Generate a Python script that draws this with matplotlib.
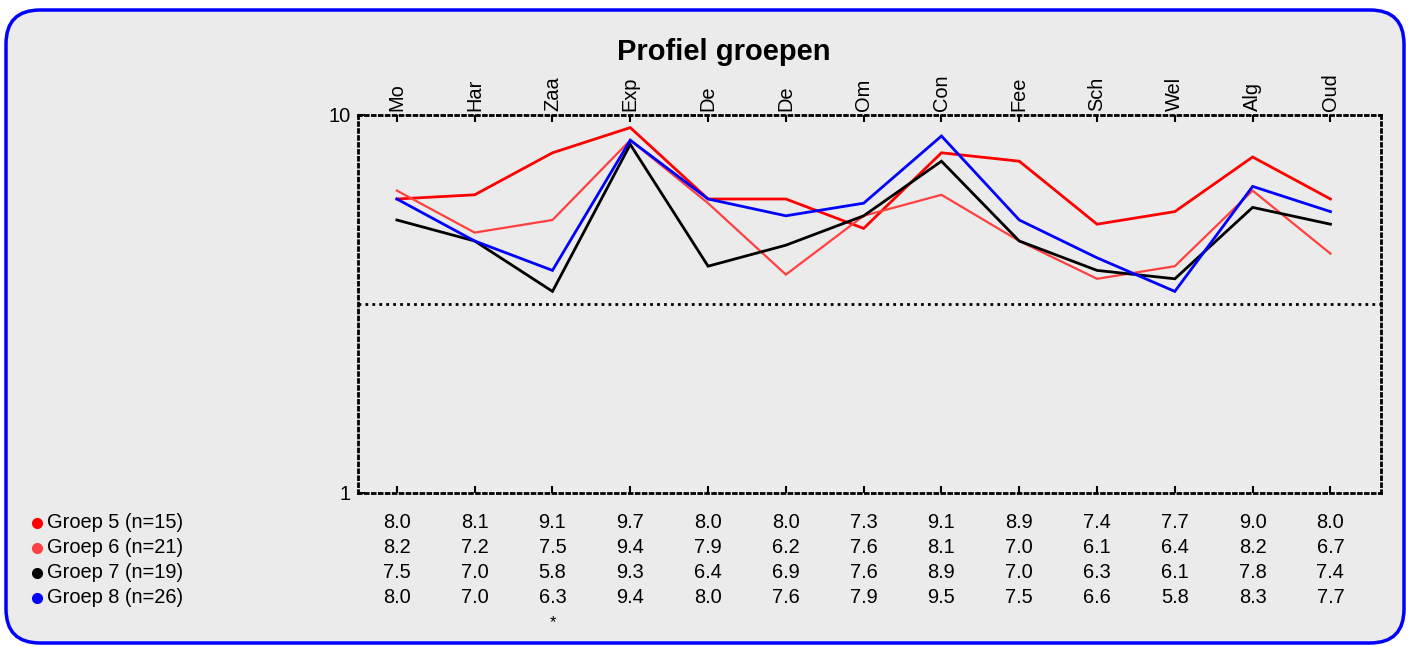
import matplotlib
matplotlib.use("Agg")
import matplotlib.pyplot as plt
from matplotlib.patches import FancyBboxPatch
from matplotlib.lines import Line2D
from matplotlib.transforms import IdentityTransform, blended_transform_factory

plt.rcParams['font.family'] = ['Liberation Sans', 'DejaVu Sans']

# categories on the top axis
categories = ['Mo', 'Har', 'Zaa', 'Exp', 'De', 'De', 'Om', 'Con', 'Fee', 'Sch', 'Wel', 'Alg', 'Oud']

# group scores
groep5 = [8.0, 8.1, 9.1, 9.7, 8.0, 8.0, 7.3, 9.1, 8.9, 7.4, 7.7, 9.0, 8.0]
groep6 = [8.2, 7.2, 7.5, 9.4, 7.9, 6.2, 7.6, 8.1, 7.0, 6.1, 6.4, 8.2, 6.7]
groep7 = [7.5, 7.0, 5.8, 9.3, 6.4, 6.9, 7.6, 8.9, 7.0, 6.3, 6.1, 7.8, 7.4]
groep8 = [8.0, 7.0, 6.3, 9.4, 8.0, 7.6, 7.9, 9.5, 7.5, 6.6, 5.8, 8.3, 7.7]

group_labels = ['Groep 5 (n=15)', 'Groep 6 (n=21)', 'Groep 7 (n=19)', 'Groep 8 (n=26)']
group_colors = ['#ff0000', '#ff4040', '#000000', '#0000ff']
group_widths = [2.0, 1.6, 2.0, 2.0]
marked = ['', '', '*', '', '', '', '', '', '', '', '', '', '']

series = [groep5, groep6, groep7, groep8]

FS = 14.4

fig = plt.figure(figsize=(14.1, 6.46), dpi=100)
fig.patch.set_facecolor('white')

# rounded blue frame
box = FancyBboxPatch((6, 3), 1398, 633, boxstyle="round,pad=0,rounding_size=34",
                     facecolor='#ebebeb', edgecolor='#0000ff', linewidth=2.5,
                     transform=IdentityTransform(), zorder=0)
fig.add_artist(box)

ax = fig.add_axes([358 / 1410, 1 - 493 / 646, (1381 - 358) / 1410, (493 - 115) / 646])
ax.set_facecolor('none')

x = list(range(len(categories)))
for vals, col, lw in zip(series, group_colors, group_widths):
    ax.plot(x, vals, color=col, lw=lw, solid_joinstyle='miter')

dots = (0, (1, 1.5))
ax.axhline(5.5, color='black', ls=dots, lw=2)

ax.set_xlim(-0.5, 12.65)
ax.set_ylim(1, 10)
ax.set_yticks([1, 10])
ax.set_yticklabels(['1', '10'], fontsize=FS)
ax.set_xticks(x)
ax.xaxis.set_ticks_position('both')
ax.tick_params(axis='x', which='both', top=True, bottom=True, labeltop=True, labelbottom=False,
               direction='in', length=5, width=1.5, pad=3, labelsize=FS)
ax.tick_params(axis='y', direction='in', length=5, width=1.5, pad=5)
ax.set_xticklabels(categories, rotation=90)

for s in ax.spines.values():
    s.set_linestyle(dots)
    s.set_linewidth(2)
    s.set_color('black')

# value table under the plot
tr = blended_transform_factory(ax.transData, fig.transFigure)
row_y = [1 - 528 / 646, 1 - 553 / 646, 1 - 578 / 646, 1 - 603 / 646]
for vals, yy in zip(series, row_y):
    for i, v in enumerate(vals):
        ax.text(i, yy, f'{v:.1f}', transform=tr, ha='center', va='baseline', fontsize=FS)
for i, m in enumerate(marked):
    if m:
        ax.text(i, 1 - 627 / 646, m, transform=tr, ha='center', va='baseline', fontsize=12)

# legend
for lab, col, yy in zip(group_labels, group_colors, row_y):
    fig.add_artist(Line2D([37 / 1410], [yy + 5.5 / 646], marker='o', markersize=7, color=col,
                          transform=fig.transFigure, linestyle='none'))
    fig.text(47 / 1410, yy, lab, ha='left', va='baseline', fontsize=FS)

fig.text(724 / 1410, 1 - 52 / 646, 'Profiel groepen', ha='center', va='center',
         fontsize=21, fontweight='bold')

fig.savefig('out.png', dpi=100)
